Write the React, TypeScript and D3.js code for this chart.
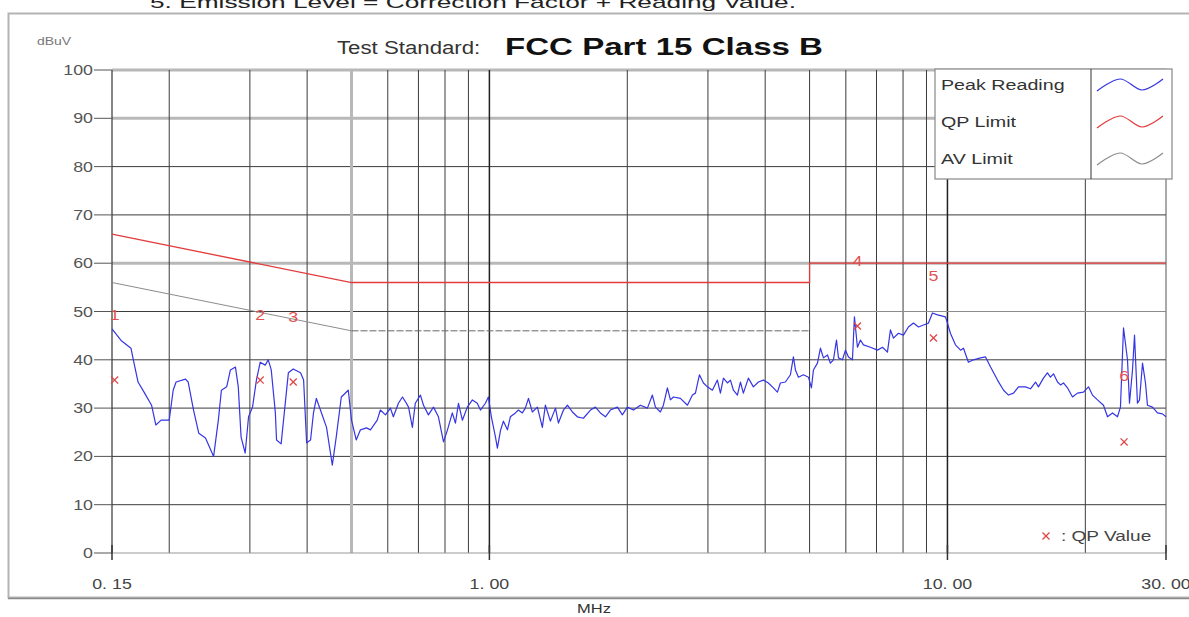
import React from 'react';
import * as d3 from 'd3';

// peak reading trace, [MHz, dBuV]
const peakReading: [number, number][] = [
  [0.150, 46.4], [0.157, 44.0], [0.165, 42.4], [0.167, 40.0], [0.171, 35.4], [0.177, 33.0], [0.183, 30.6],
  [0.187, 26.5], [0.192, 27.5], [0.200, 27.5], [0.204, 33.7], [0.207, 35.4], [0.217, 36.0], [0.220, 35.4],
  [0.226, 29.6], [0.232, 24.8], [0.240, 23.8], [0.250, 20.0], [0.256, 27.5], [0.260, 33.7], [0.267, 34.4],
  [0.272, 37.9], [0.279, 38.5], [0.283, 34.4], [0.287, 24.0], [0.293, 20.7], [0.298, 28.2], [0.304, 30.2],
  [0.310, 35.8], [0.316, 39.5], [0.324, 38.9], [0.329, 40.0], [0.334, 37.9], [0.341, 29.0], [0.343, 23.4],
  [0.351, 22.6], [0.359, 31.7], [0.364, 37.3], [0.373, 38.1], [0.387, 37.3], [0.393, 35.8], [0.399, 22.8],
  [0.407, 23.4], [0.413, 29.0], [0.419, 32.0], [0.430, 29.0], [0.441, 26.0], [0.454, 18.2], [0.463, 24.0],
  [0.475, 32.3], [0.492, 33.7], [0.500, 27.5], [0.512, 23.4], [0.523, 25.5], [0.539, 25.9], [0.550, 25.5],
  [0.569, 27.5], [0.578, 29.6], [0.593, 28.6], [0.608, 30.0], [0.617, 28.2], [0.633, 31.0], [0.646, 32.3],
  [0.656, 31.3], [0.666, 30.2], [0.679, 26.0], [0.689, 31.0], [0.707, 32.7], [0.718, 30.6], [0.736, 28.6],
  [0.755, 30.2], [0.774, 28.2], [0.794, 23.0], [0.810, 25.5], [0.830, 29.0], [0.843, 26.9], [0.856, 31.0],
  [0.873, 27.5], [0.895, 30.2], [0.918, 31.7], [0.941, 31.0], [0.956, 29.6], [0.980, 31.0], [0.995, 32.3],
  [1.010, 28.2], [1.031, 24.0], [1.041, 21.7], [1.057, 25.3], [1.073, 27.3], [1.095, 25.5], [1.111, 28.2],
  [1.140, 29.0], [1.157, 29.6], [1.180, 29.0], [1.198, 30.0], [1.217, 32.0], [1.241, 29.2], [1.273, 30.2],
  [1.305, 26.0], [1.325, 30.6], [1.359, 27.3], [1.394, 30.0], [1.415, 26.9], [1.451, 29.6], [1.480, 30.6],
  [1.518, 29.2], [1.556, 28.2], [1.604, 27.9], [1.662, 29.6], [1.704, 30.2], [1.747, 29.0], [1.792, 28.2],
  [1.837, 29.6], [1.903, 30.2], [1.951, 28.6], [2.001, 30.2], [2.063, 29.6], [2.136, 30.6], [2.213, 30.0],
  [2.269, 32.7], [2.304, 30.2], [2.362, 29.2], [2.398, 30.6], [2.447, 34.2], [2.484, 31.7], [2.522, 32.3],
  [2.612, 32.0], [2.706, 30.6], [2.775, 32.7], [2.817, 33.1], [2.874, 36.9], [2.933, 35.2], [2.992, 34.4],
  [3.068, 33.7], [3.146, 35.8], [3.194, 33.1], [3.243, 36.2], [3.309, 35.2], [3.359, 35.8], [3.410, 33.7],
  [3.479, 32.7], [3.532, 35.4], [3.585, 33.1], [3.676, 36.2], [3.770, 34.4], [3.866, 35.4], [3.964, 35.8],
  [4.065, 35.2], [4.169, 34.2], [4.254, 33.3], [4.318, 35.2], [4.428, 35.4], [4.541, 36.9], [4.610, 40.6],
  [4.657, 37.9], [4.728, 36.4], [4.848, 36.9], [4.972, 36.4], [5.047, 34.2], [5.098, 37.9], [5.202, 39.3],
  [5.281, 42.4], [5.362, 40.4], [5.470, 41.0], [5.553, 39.3], [5.638, 40.0], [5.724, 44.1], [5.782, 40.4],
  [5.899, 40.0], [5.989, 42.0], [6.080, 40.6], [6.203, 40.0], [6.265, 48.9], [6.361, 42.6], [6.457, 44.1],
  [6.555, 43.1], [6.790, 42.6], [7.034, 42.0], [7.213, 42.6], [7.396, 41.6], [7.508, 46.2], [7.622, 44.5],
  [7.816, 45.5], [8.015, 45.1], [8.218, 46.8], [8.430, 47.6], [8.645, 46.8], [8.866, 47.2], [9.090, 47.6],
  [9.274, 49.7], [9.511, 49.3], [9.900, 48.9], [10.00, 47.6], [10.15, 45.5], [10.41, 43.1], [10.68, 42.0],
  [10.84, 42.4], [11.11, 39.5], [11.40, 40.0], [11.81, 40.4], [12.11, 40.6], [12.42, 38.5], [12.86, 35.8],
  [13.26, 33.7], [13.59, 32.7], [13.94, 33.1], [14.29, 34.4], [14.80, 34.4], [15.18, 34.0], [15.57, 35.4],
  [15.80, 34.4], [16.20, 36.2], [16.53, 37.3], [16.78, 36.4], [17.04, 37.1], [17.39, 35.4], [17.65, 34.8],
  [17.92, 35.2], [18.28, 34.2], [18.75, 32.3], [19.22, 33.1], [19.81, 33.3], [20.32, 34.4], [20.73, 32.7],
  [21.26, 31.7], [21.91, 30.6], [22.36, 28.2], [22.93, 29.0], [23.51, 28.2], [23.86, 30.2], [24.23, 46.6],
  [24.72, 40.0], [24.97, 31.0], [25.35, 37.9], [25.61, 45.1], [25.99, 31.0], [26.26, 31.7], [26.66, 39.3],
  [27.06, 35.2], [27.33, 30.6], [28.03, 30.2], [28.74, 29.0], [29.47, 28.8], [30.0, 28.2],
];

// FCC Part 15 Class B limits
const qpLimit: [number, number][] = [[0.15, 66], [0.5, 56], [5, 56], [5, 60], [30, 60]];
const avLimitSlope: [number, number][] = [[0.15, 56], [0.5, 46]];
const avLimitMid: [number, number][] = [[0.5, 46], [5, 46], [5, 50]];
const avLimitHigh: [number, number][] = [[5, 50], [30, 50]];

// marked points
const markerNo = ['1', '2', '3', '4', '5', '6'];
const markerFreq = [0.152, 0.316, 0.373, 6.36, 9.32, 24.3];
const markerLabelLevel = [49.3, 49.3, 48.9, 60.5, 57.3, 36.6];
const qpValue = [35.8, 35.8, 35.4, 47.0, 44.5, 23.0];

const yTicks = [0, 10, 20, 30, 40, 50, 60, 70, 80, 90, 100];
const yLightLines = [60, 90, 100];
const gridFreqs = [0.2, 0.3, 0.4, 0.5, 0.6, 0.7, 0.8, 0.9, 1, 2, 3, 4, 5, 6, 7, 8, 9, 10, 20];
const lightFreqs = [0.5];
const decadeFreqs = [1, 10];
const xTickValues = [0.15, 1, 10, 30];
const xTickLabels = ['0. 15', '1. 00', '10. 00', '30. 00'];

const legendNames = ['Peak Reading', 'QP Limit', 'AV Limit'];
const BLUE = '#3535e4';
const RED = '#e23b3b';
const GRAY = '#8c8c8c';
const legendColors = [BLUE, RED, GRAY];

const FONT = '"Liberation Sans", Arial, sans-serif';
const SX = 1.27; // the original picture is stretched horizontally

const Txt = ({ x, y, children, anchor = 'start', size = 14, fill = '#444', weight = 'normal' }: any) => (
  <text
    transform={`translate(${x},${y}) scale(${SX},1)`}
    textAnchor={anchor}
    fontSize={size}
    fill={fill}
    fontWeight={weight}
    fontFamily={FONT}
  >
    {children}
  </text>
);

export default function App() {
  const W = 1189;
  const H = 617;
  const plot = { left: 112, right: 1166, top: 70, bottom: 553 };

  const x = d3.scaleLog().domain([0.15, 30]).range([plot.left, plot.right]);
  const y = d3.scaleLinear().domain([0, 100]).range([plot.bottom, plot.top]);
  const line = d3.line<[number, number]>().x(d => x(d[0])).y(d => y(d[1]));

  const timesType = (d3 as any).symbolTimes || (d3 as any).symbolX || d3.symbolCross;
  const qpSymbol = d3.symbol().type(timesType).size(34)();

  // legend wave sample
  const wave = d3.line<[number, number]>().curve(d3.curveCardinal);
  const waveShape: [number, number][] = [[0, 6], [23, -6], [45, 5], [66, -6]];

  const legend = { left: 935, right: 1172, top: 69, bottom: 179, divider: 1091 };
  const legendRowY = [90, 127, 164];

  return (
    <svg width={W} height={H} style={{ position: 'absolute', left: 0, top: 0, background: '#fff' }}>
      <rect x={0} y={0} width={W} height={H} fill="#fff" />

      {/* note above the chart, cut by the page top */}
      <text x={150} y={8} fontSize={17} fontFamily={FONT} fill="#222" textLength={646} lengthAdjust="spacingAndGlyphs">
        5. Emission Level = Correction Factor + Reading Value.
      </text>

      {/* outer frame */}
      <rect x={8.5} y={13.5} width={1200} height={584} fill="#fff" stroke="#b4b4b4" strokeWidth={2} />
      <line x1={8} x2={W} y1={598.5} y2={598.5} stroke="#8a8a8a" strokeWidth={1.5} />

      <Txt x={37} y={45} size={11} fill="#777">dBuV</Txt>
      <Txt x={337} y={54} size={17.5} fill="#333">Test Standard:</Txt>
      <text x={505} y={55} fontSize={23} fontWeight="bold" fontFamily={FONT} fill="#111" textLength={318} lengthAdjust="spacingAndGlyphs">
        FCC Part 15 Class B
      </text>

      {/* horizontal grid */}
      {yTicks.filter(v => v > 0).map(v => {
        const light = yLightLines.includes(v);
        return (
          <line key={'h' + v} x1={plot.left} x2={plot.right} y1={y(v)} y2={y(v)}
            stroke={light ? '#b8b8b8' : '#3c3c3c'} strokeWidth={light ? 3 : 1} />
        );
      })}
      {/* vertical grid */}
      {gridFreqs.map(f => {
        const light = lightFreqs.includes(f);
        const dec = decadeFreqs.includes(f);
        return (
          <line key={'v' + f} x1={x(f)} x2={x(f)} y1={plot.top} y2={plot.bottom}
            stroke={light ? '#b8b8b8' : dec ? '#202020' : '#3c3c3c'} strokeWidth={light ? 3 : dec ? 1.5 : 1} />
        );
      })}

      {/* axes */}
      <line x1={plot.left} x2={plot.left} y1={plot.top} y2={plot.bottom} stroke="#333" strokeWidth={1.2} />
      <line x1={plot.right} x2={plot.right} y1={plot.top} y2={plot.bottom} stroke="#555" strokeWidth={1} />
      <line x1={plot.left} x2={plot.right} y1={plot.bottom} y2={plot.bottom} stroke="#999" strokeWidth={1.2} />
      {yTicks.map(v => (
        <g key={'yt' + v}>
          <line x1={94} x2={plot.left} y1={y(v)} y2={y(v)} stroke="#555" strokeWidth={1} />
          <Txt x={93} y={y(v) + 5} anchor="end" size={14} fill="#555">{v}</Txt>
        </g>
      ))}
      {xTickValues.map((f, i) => (
        <g key={'xt' + f}>
          <line x1={x(f)} x2={x(f)} y1={plot.bottom - 8} y2={plot.bottom + 7} stroke="#333" strokeWidth={1.5} />
          <Txt x={x(f)} y={589} anchor="middle" size={14} fill="#444">{xTickLabels[i]}</Txt>
        </g>
      ))}
      <Txt x={594} y={613} anchor="middle" size={13} fill="#333">MHz</Txt>

      {/* limits */}
      <path d={line(avLimitSlope) || ''} fill="none" stroke={GRAY} strokeWidth={1} />
      <path d={line(avLimitMid) || ''} fill="none" stroke="#666" strokeWidth={1} strokeDasharray="7,2" />
      <path d={line(avLimitHigh) || ''} fill="none" stroke={GRAY} strokeWidth={1} />
      <path d={line(qpLimit) || ''} fill="none" stroke={RED} strokeWidth={1.3} />

      {/* peak reading trace */}
      <path d={line(peakReading) || ''} fill="none" stroke={BLUE} strokeWidth={1.2} strokeLinejoin="round" />

      {/* markers */}
      {markerFreq.map((f, i) => (
        <g key={'m' + i}>
          <Txt x={x(f)} y={y(markerLabelLevel[i]) + 5} anchor="middle" size={14} fill="#e05252">{markerNo[i]}</Txt>
          <path d={qpSymbol || ''} transform={`translate(${x(f)},${y(qpValue[i])})`} fill="none" stroke="#e04848" strokeWidth={1.3} />
        </g>
      ))}

      {/* legend */}
      <rect x={legend.left} y={legend.top} width={legend.right - legend.left} height={legend.bottom - legend.top}
        fill="#fff" stroke="#888" strokeWidth={1.2} />
      <line x1={legend.divider} x2={legend.divider} y1={legend.top} y2={legend.bottom} stroke="#333" strokeWidth={1} />
      {legendNames.map((name, i) => (
        <g key={name}>
          <Txt x={941} y={legendRowY[i]} size={15.5} fill="#333">{name}</Txt>
          <path
            d={wave(waveShape.map(([dx, dy]) => [1097 + dx, legendRowY[i] - 5 + dy] as [number, number])) || ''}
            fill="none" stroke={legendColors[i]} strokeWidth={1.2} />
        </g>
      ))}

      {/* QP value key */}
      <path d={qpSymbol || ''} transform="translate(1046,536)" fill="none" stroke="#e04848" strokeWidth={1.3} />
      <Txt x={1061} y={541} size={15} fill="#444">: QP Value</Txt>
    </svg>
  );
}
